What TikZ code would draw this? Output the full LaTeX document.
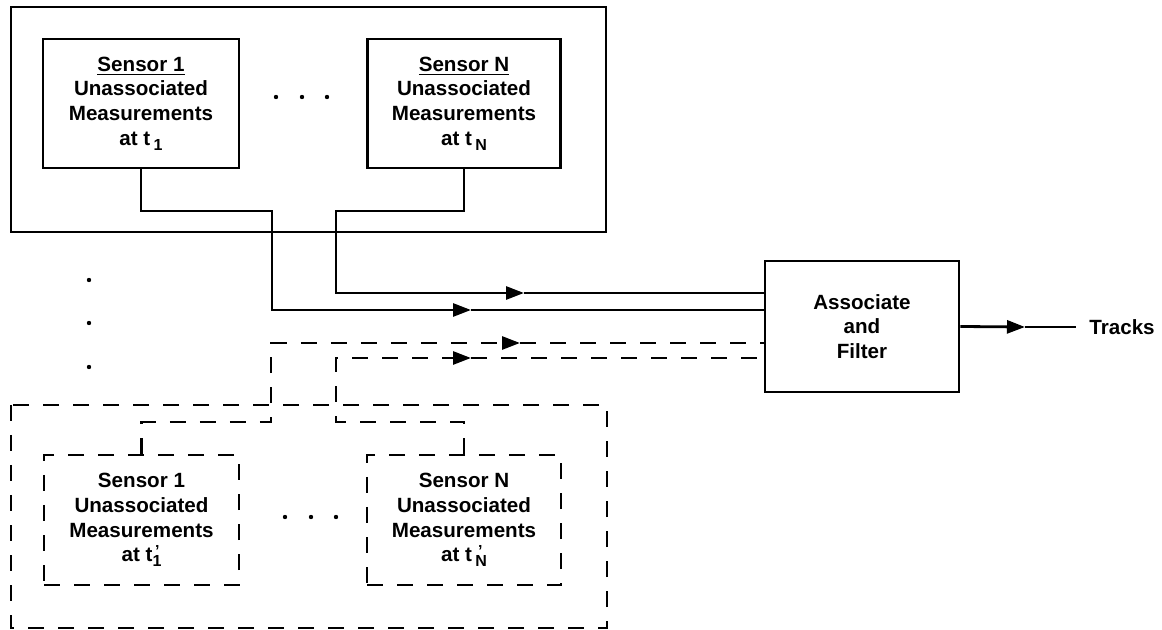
\documentclass[tikz,border=0pt]{standalone}
\usepackage{fontspec}
\setmainfont{Liberation Sans}
\usetikzlibrary{arrows.meta}
\newcommand\lbl{\fontsize{10.3}{12.3}\selectfont\bfseries}
\newcommand\subt[1]{\raisebox{-0.45ex}{\fontsize{8}{8}\selectfont #1}}
\newcommand\primesubt[1]{\makebox[0pt][l]{\raisebox{0.45ex}{\fontsize{8}{8}\selectfont\,’}}\subt{#1}}
\begin{document}
\begin{tikzpicture}[x=0.5pt,y=-0.5pt,line width=1.4pt,
  box/.style={draw,align=center,inner sep=0pt,font=\lbl},
  dsh/.style={dash pattern=on 8pt off 7pt},
  dbox/.style={box,dsh},
  tip/.style={-{Triangle[length=9pt,width=6.5pt]}},
  dotmark/.style={fill=black}]
\useasboundingbox (0,0) rectangle (1162,630);

% outer containers
\draw (11,7) rectangle (606,232);
\draw[dsh] (11,405) rectangle (607,628);

% solid sensor boxes
\node[box,minimum width=98pt,minimum height=64.5pt] (s1) at (141,103.5)
  {\underline{Sensor 1}\\Unassociated\\Measurements\\at t\,\subt{1}};
\node[box,minimum width=96.5pt,minimum height=64.5pt] (sN) at (464,103.5)
  {\underline{Sensor N}\\Unassociated\\Measurements\\at t\,\subt{N}};

% dashed sensor boxes
\node[dbox,minimum width=97.5pt,minimum height=65pt] (d1) at (141.5,520)
  {Sensor 1\\Unassociated\\Measurements\\at t\primesubt{1}};
\node[dbox,minimum width=97pt,minimum height=65pt] (dN) at (464,520)
  {Sensor N\\Unassociated\\Measurements\\at t\,\primesubt{N}};

% associate and filter
\node[box,minimum width=97pt,minimum height=65.5pt] (af) at (862,326.5)
  {Associate\\and\\Filter};
\node[font=\lbl,anchor=west,inner sep=0pt] (tracks) at (1088,327) {Tracks};

% arrow positions
\coordinate (a1) at (471,310);
\coordinate (aN) at (524,293);
\coordinate (b1) at (520,343);
\coordinate (bN) at (471,358);
\coordinate (at) at (1025,327);

% solid connectors
\draw[tip] (s1.south) |- (272,211) -- (272,310) -- (a1);
\draw (a1) -- (af.west |- a1);
\draw[tip] (sN.south) |- (336,211) -- (336,293) -- (aN);
\draw (aN) -- (af.west |- aN);

% dashed connectors
\draw[tip,dsh] (d1.north) |- (271,422) -- (271,343) -- (b1);
\draw[dsh] (b1) -- (af.west |- b1);
\draw[tip,dsh] (dN.north) |- (336,422) -- (336,358) -- (bN);
\draw[dsh] (bN) -- (af.west |- bN);

% output
\draw[tip] (af.east) -- (at);
\draw (at) -- ([xshift=-6pt]tracks.west);

% dots
\foreach \x in {276,302,327} \fill[dotmark] (\x,97) circle[radius=1.1pt];
\foreach \x in {285,311,336} \fill[dotmark] (\x,517) circle[radius=1.1pt];
\foreach \y in {280,323,367} \fill[dotmark] (89,\y) circle[radius=1.1pt];
\end{tikzpicture}
\end{document}
